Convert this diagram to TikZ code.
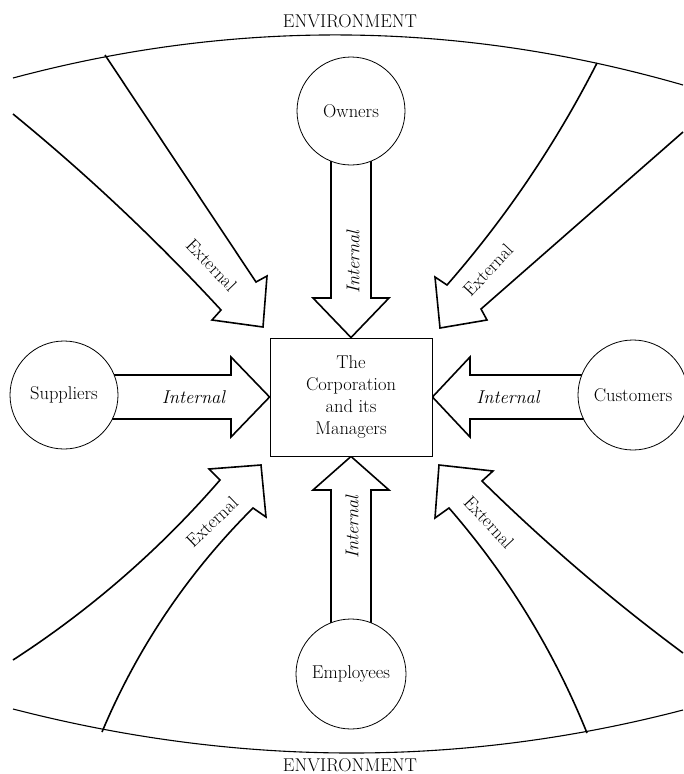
\documentclass[tikz,border=0pt]{standalone}
\usetikzlibrary{calc}
\pgfdeclarelayer{bg}
\pgfsetlayers{bg,main}
\begin{document}
\begin{tikzpicture}[x=1pt,y=-1pt,font=\fontsize{18.5}{22}\selectfont]
\tikzset{
  blk/.style={draw=black, line width=1.6pt, line join=miter, miter limit=10},
  party/.style={circle, draw=black, line width=0.8pt, fill=white, inner sep=0pt, minimum size=#1},
  corp/.style={rectangle, draw=black, line width=0.9pt, fill=white, minimum width=162pt, minimum height=118pt, align=center, inner sep=0pt},
  env/.style={line width=1.1pt},
  envlbl/.style={inner sep=0pt},
  intl/.style={font=\fontsize{18.5}{22}\selectfont\itshape, inner sep=0pt},
  extl/.style={inner sep=0pt}
}
\useasboundingbox (0,0) rectangle (683,774);

% nodes
\node[corp] (corp) at (351,397) {The\\Corporation\\and its\\Managers};
\node[party=108pt] (own) at (351,111) {Owners};
\node[party=110pt] (emp) at (351,674) {Employees};
\node[party=108pt] (sup) at (64,395) {Suppliers};
\node[party=110pt] (cus) at (633,395) {Customers};

\begin{pgfonlayer}{bg}
% internal block arrows
\draw[blk] (331,111) -- (331,298) -- (313,298) -- (corp.north) -- (389,298) -- (371,298) -- (371,111);
\draw[blk] (331,674) -- (331,490) -- (313,490) -- (corp.south) -- (389,490) -- (371,490) -- (371,674);
\draw[blk] (64,375) -- (231,375) -- (231,357) -- (corp.west) -- (231,437) -- (231,419) -- (64,419);
\draw[blk] (633,375) -- (470,375) -- (470,357) -- (corp.east) -- (470,437) -- (470,419) -- (633,419);
% external block arrows
\draw[blk] (13,114) .. controls (86.9,174.4) and (156.3,239.8) .. (221,310) -- (212,320) -- (263,327) -- (267,276) -- (256,282) -- (105,55);
\draw[blk] (597,63) .. controls (556.2,143.2) and (506.2,217.2) .. (447,285) -- (435,277) -- (440,328) -- (487,320) -- (481,309) -- (683,132);
\draw[blk] (13,660) .. controls (90.5,609.8) and (159.5,549.8) .. (220,480) -- (209,469) -- (261,465) -- (266,517) -- (253,508) .. controls (188,572.8) and (137.6,647.4) .. (102,732);
\draw[blk] (683,653) .. controls (612,600.3) and (545,542.9) .. (482,481) -- (493,471) -- (439,465) -- (435,518) -- (449,508) .. controls (507.5,575.3) and (553.5,650.3) .. (587,733);
\end{pgfonlayer}

% environment boundaries
\draw[env] (13,78) .. controls (236,18.3) and (460,20.7) .. (683,85);
\draw[env] (13,709) .. controls (239,767.3) and (461.7,767.7) .. (683,710);

% labels
\node[envlbl] (envT) at (350,21.5) {ENVIRONMENT};
\node[envlbl] (envB) at (350,765) {ENVIRONMENT};
\node[intl, rotate=90] (iO) at (353,262) {Internal};
\node[intl, rotate=90] (iE) at (352,527) {Internal};
\node[intl] (iS) at (193.5,397) {Internal};
\node[intl] (iC) at (508,397) {Internal};
\node[extl, rotate=-46] (eUL) at (211.5,265) {External};
\node[extl, rotate=47] (eUR) at (488,270) {External};
\node[extl, rotate=44] (eLL) at (212,522) {External};
\node[extl, rotate=-47] (eLR) at (489,522) {External};
\end{tikzpicture}
\end{document}
